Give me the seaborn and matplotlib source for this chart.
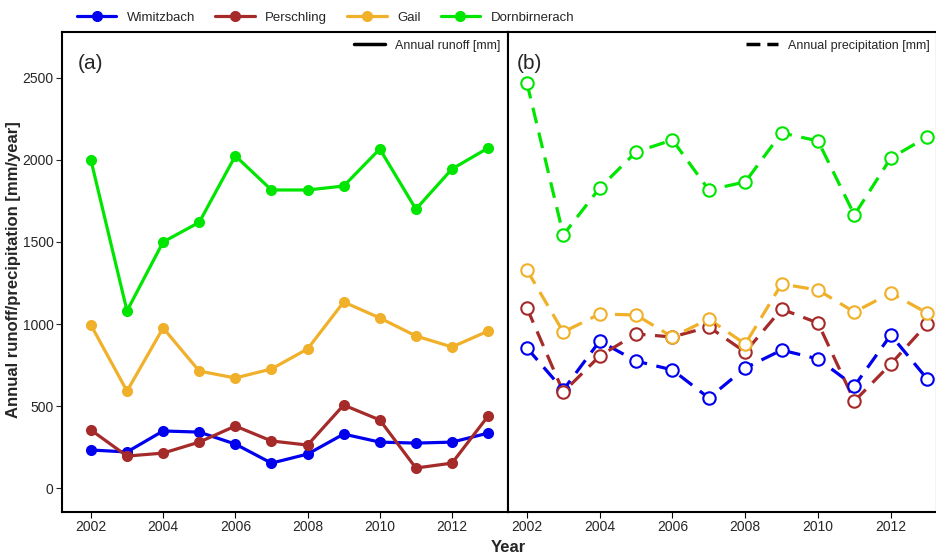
import matplotlib
matplotlib.use("Agg")
import matplotlib.pyplot as plt
import seaborn as sns
import pandas as pd
from matplotlib.lines import Line2D

years = list(range(2002, 2014))
stations = ["Wimitzbach", "Perschling", "Gail", "Dornbirnerach"]
colors = {"Wimitzbach": "#0000EE", "Perschling": "#A52A2A", "Gail": "#F0B02A", "Dornbirnerach": "#00E600"}

runoff_wimitzbach = [232, 220, 348, 341, 268, 152, 207, 329, 280, 274, 280, 335]
runoff_perschling = [354, 195, 213, 280, 378, 287, 262, 506, 415, 122, 152, 439]
runoff_gail = [994, 591, 976, 713, 671, 726, 848, 1134, 1037, 927, 860, 957]
runoff_dornbirnerach = [2000, 1080, 1500, 1620, 2025, 1817, 1817, 1841, 2067, 1700, 1945, 2073]

precip_wimitzbach = [854, 598, 896, 774, 720, 549, 732, 841, 787, 622, 933, 665]
precip_perschling = [1098, 585, 805, 939, 921, 982, 829, 1091, 1006, 530, 756, 1000]
precip_gail = [1329, 951, 1061, 1055, 921, 1030, 878, 1244, 1207, 1073, 1189, 1067]
precip_dornbirnerach = [2470, 1543, 1829, 2049, 2122, 1817, 1866, 2165, 2116, 1665, 2012, 2140]

runoff = dict(zip(stations, [runoff_wimitzbach, runoff_perschling, runoff_gail, runoff_dornbirnerach]))
precip = dict(zip(stations, [precip_wimitzbach, precip_perschling, precip_gail, precip_dornbirnerach]))

def long(d):
    return pd.DataFrame([{"Year": y, "Station": s, "v": v} for s in stations for y, v in zip(years, d[s])])

dfr, dfp = long(runoff), long(precip)

sns.set_style("white")
plt.rcParams["font.family"] = ["Liberation Sans", "DejaVu Sans"]
fig = plt.figure(figsize=(9.37, 5.56), dpi=100)
W, H = 937, 556
axa = fig.add_axes([62 / W, 1 - 512 / H, 446 / W, 480 / H])
axb = fig.add_axes([508 / W, 1 - 512 / H, 429 / W, 480 / H], sharey=axa)

sns.lineplot(data=dfr, x="Year", y="v", hue="Station", palette=colors, hue_order=stations,
             ax=axa, lw=2.3, marker="o", markersize=8, markeredgewidth=0, legend=False)
for s in stations:
    sub = dfp[dfp.Station == s]
    sns.lineplot(data=sub, x="Year", y="v", color=colors[s], ax=axb, lw=2.3, ls=(0, (5, 3)), legend=False)
    sns.scatterplot(data=sub, x="Year", y="v", ax=axb, s=80, facecolor="white",
                    edgecolor=colors[s], linewidth=1.5, zorder=5, legend=False)

axa.set_xlim(2001.2, 2013.55)
axb.set_xlim(2001.48, 2013.27)
axa.set_ylim(-146, 2780)
ticks = [2002, 2004, 2006, 2008, 2010, 2012]
for ax in (axa, axb):
    ax.set_xticks(ticks)
    ax.set_xticklabels([str(t) for t in ticks], fontsize=10)
    ax.set_xlabel("")
    ax.set_ylabel("")
    for sp in ax.spines.values():
        sp.set_color("black"); sp.set_linewidth(1.5)
    ax.tick_params(axis="x", length=4, color="black", bottom=True, pad=2)
axa.set_yticks([0, 500, 1000, 1500, 2000, 2500])
axa.tick_params(axis="y", labelsize=10, length=4, left=True, pad=2)
axb.tick_params(axis="y", left=False, labelleft=False)
fig.text(14 / W, 1 - 270 / H, "Annual runoff/precipitation [mm/year]", rotation=90, ha="center", va="center",
         fontsize=12, fontweight="bold")
fig.text(508 / W, 1 - 548 / H, "Year", ha="center", va="center", fontsize=12, fontweight="bold")

axa.text(0.035, 0.955, "(a)", transform=axa.transAxes, fontsize=15, va="top")
axb.text(0.02, 0.955, "(b)", transform=axb.transAxes, fontsize=15, va="top")
axa.legend(handles=[Line2D([], [], color="black", lw=2.5)], labels=["Annual runoff [mm]"],
           loc="upper right", frameon=False, fontsize=9, handlelength=2.5, borderaxespad=0.2)
axb.legend(handles=[Line2D([], [], color="black", lw=2.5, ls=(0, (4, 2)))], labels=["Annual precipitation [mm]"],
           loc="upper right", frameon=False, fontsize=9, handlelength=2.5, borderaxespad=0.2)

hs = [Line2D([], [], color=colors[s], lw=2.3, marker="o", markersize=7) for s in stations]
fig.legend(hs, stations, loc="upper left", bbox_to_anchor=(65 / W, 1.0), ncol=4, frameon=False,
           fontsize=9.5, handlelength=3, columnspacing=1.5)

fig.savefig("out.png", dpi=100)
